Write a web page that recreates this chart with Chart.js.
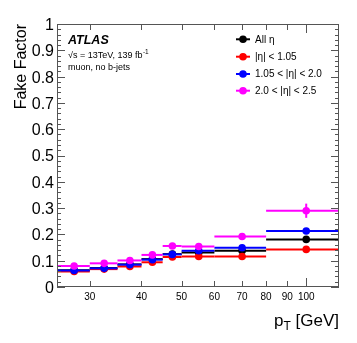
<!DOCTYPE html>
<html>
<head>
<meta charset="utf-8">
<script src="https://cdn.jsdelivr.net/npm/chart.js@4/dist/chart.umd.min.js"></script>
<style>
html,body{margin:0;padding:0;background:#fff;}
#wrap{width:357px;height:343px;position:relative;}
</style>
</head>
<body>
<div id="wrap"><canvas id="c" width="357" height="343"></canvas></div>
<script>
// ---- data ----
const binEdges   = [25, 30, 35, 40, 45, 50, 60, 80, 120];
const binCenters = [27.5, 32.5, 37.5, 42.5, 47.5, 55, 70, 100];
const allEta      = [0.064, 0.072, 0.086, 0.106, 0.125, 0.131, 0.138, 0.181];
const allEtaErr   = [0.002, 0.002, 0.002, 0.003, 0.003, 0.003, 0.004, 0.006];
const etaCentral    = [0.059, 0.068, 0.078, 0.094, 0.114, 0.116, 0.116, 0.143];
const etaCentralErr = [0.003, 0.003, 0.003, 0.004, 0.004, 0.004, 0.005, 0.007];
const etaMid      = [0.063, 0.071, 0.085, 0.104, 0.124, 0.138, 0.149, 0.213];
const etaMidErr   = [0.003, 0.003, 0.004, 0.004, 0.005, 0.005, 0.006, 0.010];
const etaForward    = [0.080, 0.090, 0.101, 0.122, 0.156, 0.154, 0.192, 0.290];
const etaForwardErr = [0.004, 0.004, 0.005, 0.006, 0.007, 0.007, 0.010, 0.027];
const seriesLabels = ['All \u03b7', '|\u03b7| < 1.05', '1.05 < |\u03b7| < 2.0', '2.0 < |\u03b7| < 2.5'];
const xTickValues = [30, 40, 50, 60, 70, 80, 90, 100];
const yTickValues = [0, 0.1, 0.2, 0.3, 0.4, 0.5, 0.6, 0.7, 0.8, 0.9, 1];

const FONT = "'Liberation Sans', Arimo, Helvetica, Arial, sans-serif";
const colors = ['#000000', '#ff0000', '#0000ff', '#ff00ff'];
const values = [allEta, etaCentral, etaMid, etaForward];
const errs = [allEtaErr, etaCentralErr, etaMidErr, etaForwardErr];

const datasets = values.map((vals, i) => ({
  label: seriesLabels[i],
  data: binCenters.map((x, k) => ({x: x, y: vals[k]})),
  lo: binEdges.slice(0, -1),
  hi: binEdges.slice(1),
  err: errs[i],
  showLine: false,
  pointRadius: 3.8,
  pointHoverRadius: 3.8,
  pointBorderWidth: 0,
  backgroundColor: colors[i],
  borderColor: colors[i],
  order: 4 - i
}));

const errorBars = {
  id: 'errorBars',
  beforeDatasetDraw(chart, args) {
    const ds = chart.data.datasets[args.index];
    const xs = chart.scales.x, ys = chart.scales.y;
    const ctx = chart.ctx;
    ctx.save();
    ctx.strokeStyle = ds.borderColor;
    ctx.lineWidth = 2;
    ds.data.forEach((p, k) => {
      const y = ys.getPixelForValue(p.y);
      const x = xs.getPixelForValue(p.x);
      ctx.beginPath();
      ctx.moveTo(xs.getPixelForValue(ds.lo[k]), y);
      ctx.lineTo(xs.getPixelForValue(ds.hi[k]), y);
      ctx.stroke();
      ctx.beginPath();
      ctx.moveTo(x, ys.getPixelForValue(p.y - ds.err[k]));
      ctx.lineTo(x, ys.getPixelForValue(p.y + ds.err[k]));
      ctx.stroke();
    });
    ctx.restore();
  }
};

const decorations = {
  id: 'decorations',
  afterDraw(chart) {
    const ctx = chart.ctx;
    const a = chart.chartArea;
    const xs = chart.scales.x, ys = chart.scales.y;
    ctx.save();
    // frame
    ctx.strokeStyle = '#555';
    ctx.lineWidth = 1;
    ctx.strokeRect(a.left + 0.5, a.top + 0.5, a.right - a.left - 1, a.bottom - a.top - 1);
    // y ticks
    ctx.beginPath();
    for (let k = 0; k <= 50; k++) {
      const v = k * 0.02;
      const y = Math.round(ys.getPixelForValue(v)) + 0.5;
      const len = (k % 5 === 0) ? 8 : 4;
      ctx.moveTo(a.left, y); ctx.lineTo(a.left + len, y);
      ctx.moveTo(a.right, y); ctx.lineTo(a.right - len, y);
    }
    // x ticks
    xTickValues.forEach(v => {
      const x = Math.round(xs.getPixelForValue(v)) + 0.5;
      const len = (v === 100) ? 9 : 6;
      ctx.moveTo(x, a.bottom); ctx.lineTo(x, a.bottom - len);
      ctx.moveTo(x, a.top); ctx.lineTo(x, a.top + len);
    });
    ctx.stroke();

    ctx.fillStyle = '#000';
    // y title
    ctx.save();
    ctx.translate(26, a.top);
    ctx.rotate(-Math.PI / 2);
    ctx.font = '16px ' + FONT;
    ctx.textAlign = 'right';
    ctx.textBaseline = 'alphabetic';
    ctx.fillText('Fake Factor', 0, 0);
    ctx.restore();

    // x title: p_T [GeV], right aligned
    ctx.textBaseline = 'alphabetic';
    ctx.textAlign = 'left';
    const big = '17px ' + FONT, small = '12px ' + FONT;
    ctx.font = big; const wp = ctx.measureText('p').width;
    const wr = ctx.measureText(' [GeV]').width;
    ctx.font = small; const wt = ctx.measureText('T').width;
    let x0 = a.right - (wp + wt + wr);
    const base = 326;
    ctx.font = big; ctx.fillText('p', x0, base);
    ctx.font = small; ctx.fillText('T', x0 + wp, base + 4);
    ctx.font = big; ctx.fillText(' [GeV]', x0 + wp + wt, base);

    // ATLAS label
    ctx.font = 'italic bold 12.5px ' + FONT;
    ctx.fillText('ATLAS', 68, 44);
    ctx.font = '9px ' + FONT;
    const s1 = '\u221As = 13TeV, 139 fb';
    ctx.fillText(s1, 68, 58);
    const w1 = ctx.measureText(s1).width;
    ctx.font = '6.5px ' + FONT;
    ctx.fillText('-1', 68 + w1 + 0.5, 54);
    ctx.font = '9px ' + FONT;
    ctx.fillText('muon, no b-jets', 68, 70);

    // legend
    const rows = [39.3, 56.7, 74, 90.7];
    ctx.font = '10px ' + FONT;
    chart.data.datasets.forEach((ds, i) => {
      const y = rows[i];
      ctx.strokeStyle = ds.borderColor;
      ctx.fillStyle = ds.backgroundColor;
      ctx.lineWidth = 2;
      ctx.beginPath(); ctx.moveTo(236, y); ctx.lineTo(250, y); ctx.stroke();
      ctx.beginPath(); ctx.arc(243, y, 3.8, 0, Math.PI * 2); ctx.fill();
      ctx.fillStyle = '#000';
      ctx.textBaseline = 'middle';
      ctx.fillText(ds.label, 255, y + 0.5);
    });
    ctx.restore();
  }
};

new Chart(document.getElementById('c'), {
  type: 'scatter',
  data: { datasets: datasets },
  options: {
    responsive: false,
    animation: false,
    layout: { padding: { left: 0, top: 24, right: 18, bottom: 0 } },
    plugins: { legend: { display: false }, tooltip: { enabled: false } },
    scales: {
      x: {
        type: 'logarithmic',
        min: 25, max: 120,
        grid: { display: false, drawTicks: false },
        border: { display: false },
        afterFit(s) { s.height = 56; },
        afterBuildTicks(s) { s.ticks = xTickValues.map(v => ({ value: v })); },
        ticks: {
          autoSkip: false, maxRotation: 0, padding: 4,
          color: '#000',
          font: { family: FONT, size: 10 },
          callback: v => String(v)
        }
      },
      y: {
        min: 0, max: 1,
        grid: { display: false, drawTicks: false },
        border: { display: false },
        afterFit(s) { s.width = 57; },
        afterBuildTicks(s) { s.ticks = yTickValues.map(v => ({ value: v })); },
        ticks: {
          padding: 3,
          labelOffset: 1.5,
          color: '#000',
          font: { family: FONT, size: 16 },
          callback: v => (v === 0 || v === 1) ? String(v) : v.toFixed(1)
        }
      }
    }
  },
  plugins: [errorBars, decorations]
});
</script>
</body>
</html>
